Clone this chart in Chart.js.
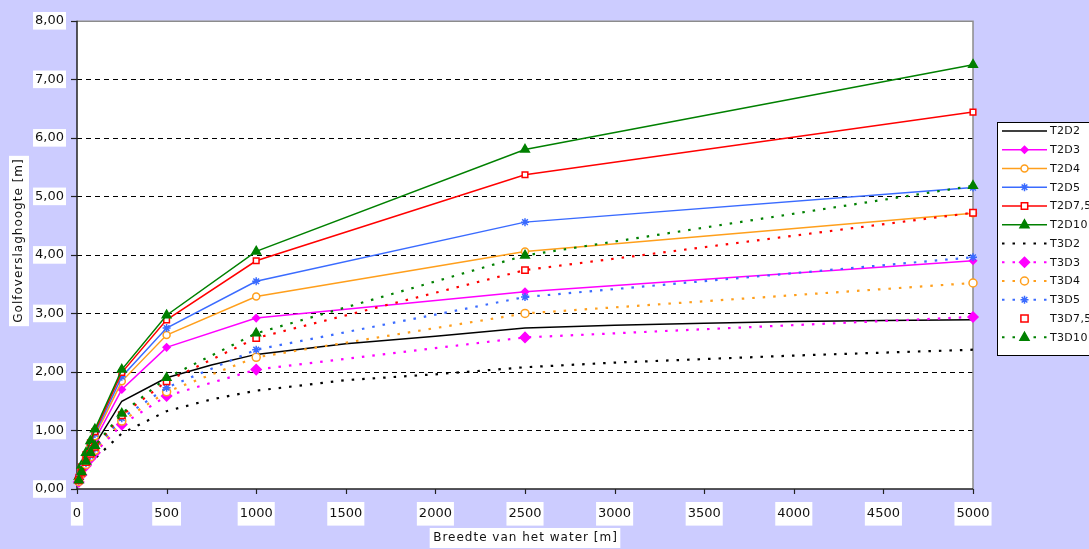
<!DOCTYPE html>
<html>
<head>
<meta charset="utf-8">
<script src="https://cdn.jsdelivr.net/npm/chart.js@4/dist/chart.umd.min.js"></script>
<style>
  html, body { margin: 0; padding: 0; background: #CCCCFF; }
  #wrap { width: 1089px; height: 549px; position: relative; }
</style>
</head>
<body>
<div id="wrap"><canvas id="c" width="1089" height="549"></canvas></div>
<script>
// ---------- DATA ----------
const xMain = [10, 25, 50, 75, 100, 250, 500, 1000, 2500, 5000];
const xD2   = [10, 25, 50, 75, 100, 250, 500, 750, 1000, 1500, 2000, 2500, 3000, 3500, 4000, 4500, 5000];

const T2D2   = [0.15, 0.30, 0.46, 0.60, 0.76, 1.50, 1.90, 2.12, 2.30, 2.48, 2.61, 2.75, 2.80, 2.83, 2.86, 2.88, 2.89];
const T2D3   = [0.17, 0.33, 0.52, 0.68, 0.84, 1.70, 2.42, 2.92, 3.37, 3.90];
const T2D4   = [0.18, 0.35, 0.55, 0.73, 0.90, 1.84, 2.63, 3.29, 4.06, 4.71];
const T2D5   = [0.19, 0.37, 0.57, 0.76, 0.94, 1.92, 2.75, 3.55, 4.56, 5.15];
const T2D7_5 = [0.20, 0.38, 0.59, 0.79, 0.98, 1.99, 2.89, 3.90, 5.37, 6.44];
const T2D10  = [0.21, 0.40, 0.62, 0.82, 1.02, 2.04, 2.97, 4.06, 5.80, 7.25];

const T3D2   = [0.10, 0.21, 0.33, 0.43, 0.52, 0.95, 1.33, 1.53, 1.68, 1.86, 1.96, 2.08, 2.16, 2.22, 2.28, 2.33, 2.38];
const T3D3   = [0.12, 0.24, 0.40, 0.52, 0.62, 1.10, 1.59, 2.04, 2.59, 2.94];
const T3D4   = [0.13, 0.26, 0.42, 0.55, 0.66, 1.16, 1.66, 2.25, 3.00, 3.52];
const T3D5   = [0.14, 0.27, 0.44, 0.57, 0.69, 1.21, 1.73, 2.38, 3.28, 3.96];
const T3D7_5 = [0.15, 0.28, 0.46, 0.60, 0.72, 1.26, 1.84, 2.58, 3.74, 4.72];
const T3D10  = [0.15, 0.29, 0.47, 0.62, 0.74, 1.29, 1.90, 2.66, 3.99, 5.18];

const seriesLabels = ["T2D2", "T2D3", "T2D4", "T2D5", "T2D7,5", "T2D10",
                      "T3D2", "T3D3", "T3D4", "T3D5", "T3D7,5", "T3D10"];
const yTickValues = [0, 1, 2, 3, 4, 5, 6, 7, 8];
const xTickValues = [0, 500, 1000, 1500, 2000, 2500, 3000, 3500, 4000, 4500, 5000];
const yTitle = "Golfoverslaghoogte [m]";
const xTitle = "Breedte van het water [m]";

// ---------- STYLES ----------
const FONT = "'DejaVu Sans', sans-serif";
const DOT = [2.5, 8];
function pts(xs, ys) { return xs.map((x, i) => ({ x: x, y: ys[i] })); }
function ds(label, xs, ys, color, style, radius, fill, dashed, lineShow, legendLine) {
  return {
    label: label,
    data: pts(xs, ys),
    borderColor: color,
    backgroundColor: fill,
    borderWidth: dashed ? 2.2 : 1.5,
    borderDash: dashed ? DOT : [],
    showLine: lineShow,
    pointStyle: style,
    pointRadius: radius,
    pointHoverRadius: radius,
    pointBorderColor: color,
    pointBackgroundColor: fill,
    pointBorderWidth: 1.5,
    tension: 0,
    clip: false,
    legendLine: legendLine
  };
}
const datasets = [
  ds(seriesLabels[0],  xD2,   T2D2,   '#000000', 'circle',   0,   '#000000', false, true, true),
  ds(seriesLabels[1],  xMain, T2D3,   '#FF00FF', 'rectRot',  3.5, '#FF00FF', false, true, true),
  ds(seriesLabels[2],  xMain, T2D4,   '#FF9F1C', 'circle',   3.5, '#FFFFFF', false, true, true),
  ds(seriesLabels[3],  xMain, T2D5,   '#3A6BFF', 'star',     4,   '#3A6BFF', false, true, true),
  ds(seriesLabels[4],  xMain, T2D7_5, '#FF0000', 'rect',     4,   '#FFFFFF', false, true, true),
  ds(seriesLabels[5],  xMain, T2D10,  '#008000', 'triangle', 5,   '#008000', false, true, true),
  ds(seriesLabels[6],  xD2,   T3D2,   '#000000', 'circle',   0,   '#000000', true,  true, true),
  ds(seriesLabels[7],  xMain, T3D3,   '#FF00FF', 'rectRot',  5,   '#FF00FF', true,  true, true),
  ds(seriesLabels[8],  xMain, T3D4,   '#FF9F1C', 'circle',   4,   '#FFFFFF', true,  true, true),
  ds(seriesLabels[9],  xMain, T3D5,   '#3A6BFF', 'star',     4,   '#3A6BFF', true,  true, true),
  ds(seriesLabels[10], xMain, T3D7_5, '#FF0000', 'rect',     4.5, '#FFFFFF', true,  true, false),
  ds(seriesLabels[11], xMain, T3D10,  '#008000', 'triangle', 5,   '#008000', true,  true, true)
];
datasets.forEach((d, i) => { d.order = datasets.length - i; });

// ---------- HELPERS ----------
function marker(ctx, style, x, y, r, fill, stroke, bw) {
  if (r <= 0) return;
  ctx.save();
  ctx.fillStyle = fill; ctx.strokeStyle = stroke; ctx.lineWidth = bw;
  ctx.setLineDash([]);
  ctx.beginPath();
  if (style === 'circle') {
    ctx.arc(x, y, r, 0, Math.PI * 2); ctx.fill(); ctx.stroke();
  } else if (style === 'rect') {
    ctx.rect(x - r * 0.8, y - r * 0.8, r * 1.6, r * 1.6); ctx.fill(); ctx.stroke();
  } else if (style === 'rectRot') {
    ctx.moveTo(x, y - r); ctx.lineTo(x + r, y); ctx.lineTo(x, y + r); ctx.lineTo(x - r, y); ctx.closePath();
    ctx.fill(); ctx.stroke();
  } else if (style === 'triangle') {
    ctx.moveTo(x, y - r); ctx.lineTo(x + r * 0.9, y + r * 0.6); ctx.lineTo(x - r * 0.9, y + r * 0.6); ctx.closePath();
    ctx.fill(); ctx.stroke();
  } else if (style === 'star') {
    for (let k = 0; k < 4; k++) {
      const a = k * Math.PI / 4;
      ctx.moveTo(x - Math.cos(a) * r, y - Math.sin(a) * r);
      ctx.lineTo(x + Math.cos(a) * r, y + Math.sin(a) * r);
    }
    ctx.stroke();
  }
  ctx.restore();
}

const framePlugin = {
  id: 'frame',
  beforeDraw(chart) {
    const { ctx, chartArea: a } = chart;
    ctx.save();
    ctx.fillStyle = '#FFFFFF';
    ctx.fillRect(a.left, a.top, a.right - a.left, a.bottom - a.top);
    ctx.restore();
  },
  beforeDatasetsDraw(chart) {
    const { ctx, chartArea: a, scales } = chart;
    const ys = scales.y, xs = scales.x;
    ctx.save();
    // dashed horizontal grid
    ctx.strokeStyle = '#000000'; ctx.lineWidth = 1; ctx.setLineDash([5, 4]);
    yTickValues.forEach(v => {
      if (v === 0 || v === 8) return;
      const py = Math.round(ys.getPixelForValue(v)) + 0.5;
      ctx.beginPath(); ctx.moveTo(a.left, py); ctx.lineTo(a.right, py); ctx.stroke();
    });
    ctx.setLineDash([]);
    // top & right border (gray)
    ctx.strokeStyle = '#8C8C8C'; ctx.lineWidth = 1.5;
    ctx.beginPath(); ctx.moveTo(a.left, a.top + 0.5); ctx.lineTo(a.right, a.top + 0.5); ctx.lineTo(a.right, a.bottom); ctx.stroke();
    // axes (dark)
    ctx.strokeStyle = '#222222'; ctx.lineWidth = 1.5;
    ctx.beginPath(); ctx.moveTo(a.left, a.top); ctx.lineTo(a.left, a.bottom); ctx.lineTo(a.right, a.bottom); ctx.stroke();
    // tick marks
    ctx.lineWidth = 1.2;
    yTickValues.forEach(v => {
      const py = Math.round(ys.getPixelForValue(v)) + 0.5;
      ctx.beginPath(); ctx.moveTo(a.left - 6, py); ctx.lineTo(a.left, py); ctx.stroke();
    });
    xTickValues.forEach(v => {
      const px = Math.round(xs.getPixelForValue(v)) + 0.5;
      ctx.beginPath(); ctx.moveTo(px, a.bottom); ctx.lineTo(px, a.bottom + 5); ctx.stroke();
    });
    ctx.restore();
  },
  afterDraw(chart) {
    const { ctx, chartArea: a } = chart;
    ctx.save();
    // axis titles with white boxes
    ctx.font = '12px ' + FONT;
    try { ctx.letterSpacing = '1px'; } catch (e) {}
    ctx.textAlign = 'center'; ctx.textBaseline = 'middle';
    const xw = ctx.measureText(xTitle).width;
    const xcx = (a.left + a.right) / 2, xcy = 538;
    ctx.fillStyle = '#FFFFFF';
    ctx.fillRect(xcx - xw / 2 - 3, xcy - 10, xw + 6, 20);
    ctx.fillStyle = '#111111';
    ctx.fillText(xTitle, xcx + 0.5, xcy);
    const yw = ctx.measureText(yTitle).width;
    ctx.translate(19, 241);
    ctx.rotate(-Math.PI / 2);
    ctx.fillStyle = '#FFFFFF';
    ctx.fillRect(-yw / 2 - 3, -10, yw + 6, 20);
    ctx.fillStyle = '#111111';
    ctx.fillText(yTitle, 0.5, 0);
    ctx.restore();

    // legend
    ctx.save();
    const lx = 997, ly = 122, lh = 233;
    ctx.fillStyle = '#FFFFFF';
    ctx.fillRect(lx, ly, 120, lh);
    ctx.strokeStyle = '#000000'; ctx.lineWidth = 1;
    ctx.strokeRect(lx + 0.5, ly + 0.5, 120, lh);
    ctx.font = '11px ' + FONT;
    try { ctx.letterSpacing = '0.3px'; } catch (e) {}
    ctx.textAlign = 'left'; ctx.textBaseline = 'middle';
    chart.data.datasets.forEach((d, i) => {
      const cy = 131 + i * 18.75;
      if (d.legendLine) {
        ctx.save();
        ctx.strokeStyle = d.borderColor; ctx.lineWidth = d.borderWidth;
        ctx.setLineDash(d.borderDash || []);
        ctx.beginPath(); ctx.moveTo(1002, cy); ctx.lineTo(1047, cy); ctx.stroke();
        ctx.restore();
      }
      marker(ctx, d.pointStyle, 1024.5, cy, d.pointRadius, d.pointBackgroundColor, d.pointBorderColor, d.pointBorderWidth);
      ctx.fillStyle = '#111111';
      ctx.fillText(d.label, 1050, cy + 0.5);
    });
    ctx.restore();
  }
};

// ---------- CHART ----------
new Chart(document.getElementById('c').getContext('2d'), {
  type: 'line',
  data: { datasets: datasets },
  plugins: [framePlugin],
  options: {
    responsive: false,
    animation: false,
    devicePixelRatio: 1,
    layout: { padding: { left: 0, right: 116, top: 16, bottom: 0 } },
    plugins: { legend: { display: false }, tooltip: { enabled: false }, title: { display: false } },
    scales: {
      x: {
        type: 'linear', min: 0, max: 5000,
        afterFit(s) { s.height = 60; },
        afterBuildTicks(s) { s.ticks = xTickValues.map(v => ({ value: v })); },
        grid: { display: false, drawTicks: false },
        border: { display: false },
        ticks: {
          font: { family: FONT, size: 13 }, color: '#111111', padding: 17,
          maxRotation: 0, autoSkip: false,
          showLabelBackdrop: true, backdropColor: '#FFFFFF',
          backdropPadding: { top: 4, bottom: 4, left: 2, right: 2 },
          callback: v => String(v)
        }
      },
      y: {
        type: 'linear', min: 0, max: 8,
        afterFit(s) { s.width = 77; },
        afterBuildTicks(s) { s.ticks = yTickValues.map(v => ({ value: v })); },
        grid: { display: false, drawTicks: false },
        border: { display: false },
        ticks: {
          font: { family: FONT, size: 13 }, color: '#111111', padding: 13,
          autoSkip: false,
          showLabelBackdrop: true, backdropColor: '#FFFFFF',
          backdropPadding: { top: 1, bottom: 1, left: 2, right: 2 },
          callback: v => Number(v).toFixed(2).replace('.', ',')
        }
      }
    }
  }
});
</script>
</body>
</html>
